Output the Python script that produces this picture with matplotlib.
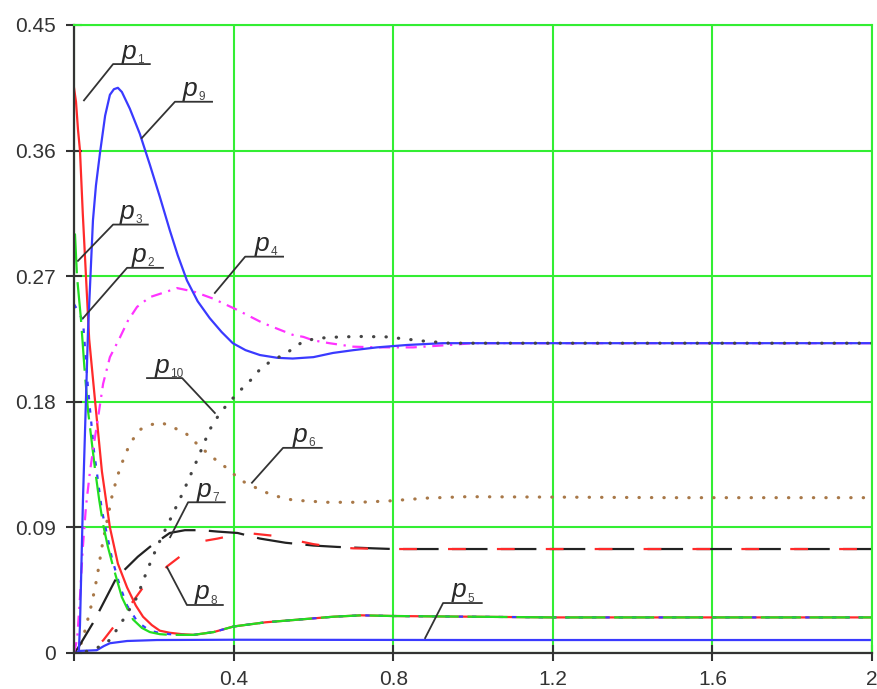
import numpy as np
import matplotlib.pyplot as plt

plt.rcParams['font.family'] = ['Liberation Sans', 'DejaVu Sans']

# curves (x, y)
p1_x = [0, 0.005, 0.01, 0.015, 0.022, 0.03, 0.038, 0.053, 0.07, 0.09, 0.11, 0.133, 0.155, 0.173,
        0.195, 0.215, 0.24, 0.27, 0.3, 0.35, 0.4, 0.48, 0.566, 0.65, 0.72, 0.8, 1.0, 1.2, 1.5, 2.0]
p1_y = [0.405, 0.395, 0.375, 0.36, 0.315, 0.27, 0.225, 0.18, 0.13, 0.09, 0.064, 0.047, 0.034, 0.026,
        0.02, 0.016, 0.0145, 0.0135, 0.013, 0.015, 0.019, 0.022, 0.024, 0.026, 0.027, 0.0265, 0.026,
        0.0255, 0.0255, 0.0255]

p2_x = [0, 0.01, 0.0225, 0.035, 0.05, 0.07, 0.095, 0.115, 0.133, 0.16, 0.19, 0.22, 0.26, 0.3, 0.35,
        0.4, 0.48, 0.566, 0.65, 0.72, 0.8, 1.0, 1.2, 1.5, 2.0]
p2_y = [0.25, 0.245, 0.238, 0.19, 0.145, 0.102, 0.068, 0.048, 0.034, 0.022, 0.016, 0.014, 0.013,
        0.013, 0.015, 0.019, 0.022, 0.024, 0.026, 0.027, 0.0265, 0.026, 0.0255, 0.0255, 0.0255]

p3_x = [0, 0.0025, 0.0075, 0.0175, 0.026, 0.035, 0.045, 0.053, 0.063, 0.073, 0.085, 0.098, 0.11,
        0.12, 0.135, 0.148, 0.17, 0.19, 0.215, 0.24, 0.27, 0.3, 0.35, 0.4, 0.48, 0.566, 0.65, 0.72,
        0.8, 1.0, 1.2, 1.5, 2.0]
p3_y = [0.30, 0.30, 0.27, 0.239, 0.205, 0.174, 0.15, 0.131, 0.11, 0.092, 0.076, 0.062, 0.05, 0.04,
        0.031, 0.024, 0.018, 0.015, 0.0135, 0.013, 0.013, 0.013, 0.015, 0.019, 0.022, 0.024, 0.026,
        0.027, 0.0265, 0.026, 0.0255, 0.0255, 0.0255]

p4_x = [0, 0.008, 0.015, 0.022, 0.03, 0.04, 0.05, 0.06, 0.073, 0.09, 0.115, 0.135, 0.158, 0.19,
        0.233, 0.258, 0.3, 0.348, 0.408, 0.473, 0.548, 0.575, 0.6, 0.64, 0.7, 0.76, 0.85, 0.94, 1.0,
        1.5, 2.0]
p4_y = [0, 0.01, 0.04, 0.075, 0.105, 0.13, 0.15, 0.168, 0.193, 0.212, 0.226, 0.238, 0.248, 0.255,
        0.259, 0.2615, 0.259, 0.254, 0.246, 0.2365, 0.228, 0.2265, 0.224, 0.222, 0.2195, 0.219,
        0.219, 0.2207, 0.222, 0.222, 0.222]

p5_x = [0, 0.015, 0.057, 0.075, 0.09, 0.133, 0.208, 0.4, 1.0, 2.0]
p5_y = [0, 0.0015, 0.002, 0.005, 0.007, 0.0086, 0.0093, 0.0095, 0.0093, 0.0093]

p6_x = [0, 0.015, 0.0275, 0.045, 0.0576, 0.07, 0.083, 0.095, 0.108, 0.12, 0.14, 0.165, 0.19, 0.22,
        0.245, 0.278, 0.315, 0.348, 0.39, 0.416, 0.466, 0.498, 0.548, 0.633, 0.716, 0.791, 0.884,
        0.984, 1.5, 2.0]
p6_y = [0, 0.004, 0.016, 0.036, 0.054, 0.076, 0.095, 0.112, 0.126, 0.136, 0.15, 0.16, 0.1635,
        0.165, 0.162, 0.158, 0.148, 0.14, 0.131, 0.124, 0.117, 0.113, 0.1096, 0.108, 0.108, 0.109,
        0.111, 0.112, 0.1113, 0.1113]

p7_x = [0, 0.01, 0.0475, 0.065, 0.103, 0.128, 0.16, 0.19, 0.24, 0.278, 0.32, 0.36, 0.41, 0.466,
        0.53, 0.6, 0.66, 0.75, 0.8, 1.0, 1.5, 2.0]
p7_y = [0, 0.0036, 0.0215, 0.031, 0.052, 0.06, 0.069, 0.076, 0.086, 0.088, 0.088, 0.087, 0.086,
        0.082, 0.079, 0.077, 0.076, 0.075, 0.0745, 0.0745, 0.0745, 0.0745]

p8_x = [0, 0.04, 0.073, 0.1, 0.12, 0.173, 0.208, 0.233, 0.265, 0.295, 0.32, 0.36, 0.41, 0.45, 0.5,
        0.55, 0.6, 0.65, 0.7, 0.8, 1.0, 1.5, 2.0]
p8_y = [0, 0.002, 0.009, 0.019, 0.026, 0.047, 0.054, 0.062, 0.069, 0.074, 0.08, 0.082, 0.085,
        0.0855, 0.084, 0.081, 0.078, 0.076, 0.075, 0.0745, 0.0745, 0.0745, 0.0745]

p9_x = [0, 0.012, 0.015, 0.0225, 0.035, 0.0475, 0.055, 0.065, 0.078, 0.09, 0.1, 0.11, 0.12, 0.14,
        0.165, 0.19, 0.215, 0.24, 0.26, 0.283, 0.31, 0.34, 0.37, 0.398, 0.43, 0.466, 0.51, 0.548,
        0.6, 0.649, 0.7, 0.759, 0.834, 0.924, 1.0, 1.5, 2.0]
p9_y = [0, 0.0, 0.02, 0.11, 0.23, 0.31, 0.335, 0.358, 0.385, 0.40, 0.404, 0.405, 0.402, 0.39,
        0.372, 0.35, 0.327, 0.303, 0.285, 0.267, 0.252, 0.240, 0.230, 0.222, 0.217, 0.2135, 0.2115,
        0.211, 0.212, 0.215, 0.217, 0.219, 0.2207, 0.222, 0.222, 0.222, 0.222]

p10_x = [0, 0.03, 0.06, 0.09, 0.123, 0.158, 0.183, 0.208, 0.24, 0.273, 0.308, 0.34, 0.366, 0.39,
         0.416, 0.448, 0.471, 0.5, 0.533, 0.573, 0.608, 0.666, 0.72, 0.784, 0.874, 0.94, 1.0,
         1.5, 2.0]
p10_y = [0, 0.001, 0.004, 0.0093, 0.0237, 0.04, 0.059, 0.076, 0.095, 0.115, 0.138, 0.16, 0.172,
         0.18, 0.188, 0.197, 0.205, 0.21, 0.215, 0.223, 0.2255, 0.2265, 0.2268, 0.2265, 0.2236,
         0.222, 0.222, 0.222, 0.222]

x_ticks = [0, 0.4, 0.8, 1.2, 1.6, 2.0]
x_tick_labels = ['', '0.4', '0.8', '1.2', '1.6', '2']
y_ticks = [0, 0.09, 0.18, 0.27, 0.36, 0.45]
y_tick_labels = ['0', '0.09', '0.18', '0.27', '0.36', '0.45']

# curve labels: subscript, text x, leader polyline (the last two points are the shelf)
label_names = ['1', '9', '3', '2', '4', '10', '6', '7', '8', '5']
label_text_x = [0.120, 0.273, 0.115, 0.145, 0.454, 0.203, 0.549, 0.308, 0.303, 0.947]
leader_x = [[0.025, 0.098, 0.19], [0.170, 0.253, 0.346], [0.010, 0.098, 0.185],
            [0.023, 0.133, 0.223], [0.353, 0.429, 0.524], [0.353, 0.271, 0.183],
            [0.446, 0.524, 0.621], [0.241, 0.286, 0.378], [0.233, 0.283, 0.373],
            [0.880, 0.925, 1.022]]
leader_y = [[0.396, 0.422, 0.422], [0.369, 0.395, 0.395], [0.281, 0.307, 0.307],
            [0.240, 0.276, 0.276], [0.258, 0.284, 0.284], [0.172, 0.197, 0.197],
            [0.122, 0.147, 0.147], [0.083, 0.108, 0.108], [0.0616, 0.0344, 0.0344],
            [0.0107, 0.0358, 0.0358]]

fig = plt.figure(figsize=(8.77, 6.89), dpi=100)
ax = fig.add_axes([74 / 877, 36 / 689, 798 / 877, 628 / 689])

lw = 1.6
ax.plot(p5_x, p5_y, color='#3a3aff', lw=lw)
ax.plot(p6_x, p6_y, color='#a87848', lw=2.3, linestyle=(0, (0.1, 3.8)), dash_capstyle='round')
ax.plot(p1_x, p1_y, color='#ff2a2a', lw=lw)
ax.plot(p2_x, p2_y, color='#3a3aff', lw=lw, linestyle=(0, (2, 4)))
ax.plot(p3_x, p3_y, color='#22dd22', lw=lw, linestyle=(0, (18, 4)))
ax.plot(p7_x, p7_y, color='#222222', lw=lw, linestyle=(0, (16, 6)))
ax.plot(p8_x, p8_y, color='#ff2a2a', lw=lw, linestyle=(8, (8, 14)))
ax.plot(p4_x, p4_y, color='#ff33ff', lw=lw, linestyle=(0, (5, 3, 1, 3)))
ax.plot(p9_x, p9_y, color='#3a3aff', lw=lw)
ax.plot(p10_x, p10_y, color='#444444', lw=2.3, linestyle=(0, (0.1, 3.8)), dash_capstyle='round')

# leader lines and labels
for name, tx, lx, ly in zip(label_names, label_text_x, leader_x, leader_y):
    ax.plot(lx, ly, color='#333333', lw=1.3, clip_on=False, zorder=4)
    ax.annotate('p', xy=(tx, ly[-1]), xytext=(0, 4), textcoords='offset points',
                fontsize=19, style='italic', color='#2a2a2a', va='baseline', ha='left')
    ax.annotate(name, xy=(tx, ly[-1]), xytext=(11, 1), textcoords='offset points',
                fontsize=8.5, color='#444444', va='baseline', ha='left')

ax.set_xlim(0, 2)
ax.set_ylim(0, 0.45)
ax.set_xticks(x_ticks)
ax.set_xticklabels(x_tick_labels)
ax.set_yticks(y_ticks)
ax.set_yticklabels(y_tick_labels)
ax.tick_params(direction='inout', length=12, width=1.5, color='#333333',
               labelsize=15, labelcolor='#333333')
ax.tick_params(axis='y', pad=7)
ax.tick_params(axis='x', pad=6)
ax.grid(True, color='#33ee33', lw=1.5)
for s in ['left', 'bottom']:
    ax.spines[s].set_color('#333333')
    ax.spines[s].set_linewidth(1.6)
for s in ['top', 'right']:
    ax.spines[s].set_color('#33ee33')
    ax.spines[s].set_linewidth(1.5)

fig.savefig('out.png', dpi=100)
